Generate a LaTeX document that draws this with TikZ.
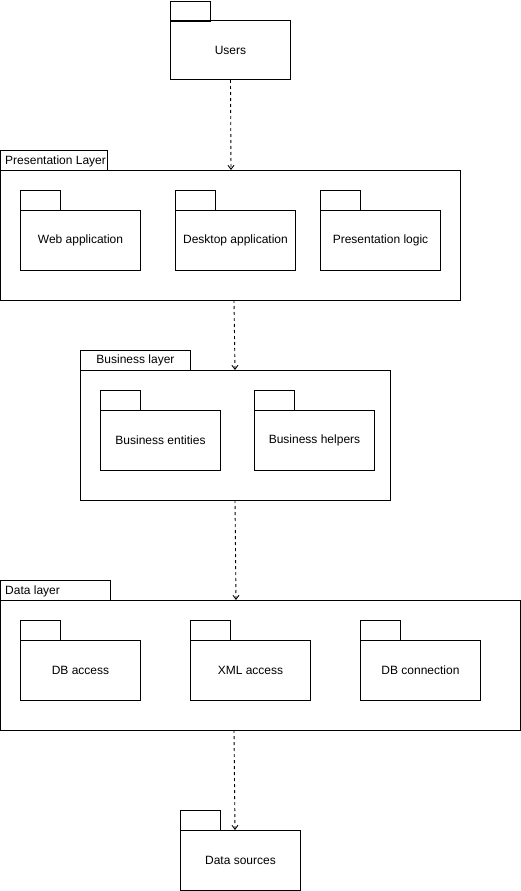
\documentclass[tikz,border=0pt]{standalone}
\usepackage{fontspec}
\setmainfont{Liberation Sans}
\usetikzlibrary{arrows.meta}
\begin{document}
\begin{tikzpicture}[x=1pt,y=-1pt,
  box/.style={draw, line width=1pt, inner sep=0pt, anchor=north west, font=\fontsize{12}{14}\selectfont},
  pkg/.style={box, minimum width=120pt, minimum height=60pt},
  ptab/.style={box, minimum width=40pt, minimum height=20pt},
  ltab/.style={box, minimum width=#1, minimum height=20pt},
  ltext/.style={anchor=west, inner sep=0pt, xshift=5pt, yshift=-1pt, font=\fontsize{12}{14}\selectfont},
  dep/.style={draw, line width=0.9pt, dash pattern=on 3pt off 3pt, -{Straight Barb[length=4pt,width=6pt]}}
]
\useasboundingbox (0,0) rectangle (521,891);
% Users
\node[ptab] (utab) at (170,1) {};
\node[pkg, minimum height=59pt] (users) at (170,20) {\raisebox{-1pt}{Users}};
% Presentation layer
\node[box, minimum width=460pt, minimum height=130pt] (pl) at (0,170) {};
\node[ltab=107pt, label distance=0pt, label={[ltext]west:Presentation Layer}] (pltab) at (0,150) {};
\node[ptab] (watab) at (20,190) {};
\node[pkg] (wa) at (20,210) {\raisebox{-1pt}{Web application}};
\node[ptab] (datab) at (175,190) {};
\node[pkg] (da) at (175,210) {\raisebox{-1pt}{Desktop application}};
\node[ptab] (pgtab) at (320,190) {};
\node[pkg] (pg) at (320,210) {\raisebox{-1pt}{Presentation logic}};
% Business layer
\node[box, minimum width=310pt, minimum height=130pt] (bl) at (80,370) {};
\node[ltab=110pt] (bltab) at (80,350) {\raisebox{-1pt}{Business layer}};
\node[ptab] (betab) at (100,390) {};
\node[pkg] (be) at (100,410) {\raisebox{-1pt}{Business entities}};
\node[ptab] (bhtab) at (254,390) {};
\node[pkg] (bh) at (254,410) {\raisebox{-1pt}{Business helpers}};
% Data layer
\node[box, minimum width=520pt, minimum height=130pt] (dl) at (0,600) {};
\node[ltab=110pt, label distance=0pt, label={[ltext]west:Data layer}] (dltab) at (0,580) {};
\node[ptab] (dbtab) at (20,620) {};
\node[pkg] (db) at (20,640) {\raisebox{-1pt}{DB access}};
\node[ptab] (xmtab) at (190,620) {};
\node[pkg] (xm) at (190,640) {\raisebox{-1pt}{XML access}};
\node[ptab] (dctab) at (360,620) {};
\node[pkg] (dc) at (360,640) {\raisebox{-1pt}{DB connection}};
% Data sources
\node[ptab] (dstab) at (180,810) {};
\node[pkg] (ds) at (180,830) {\raisebox{-1pt}{Data sources}};
% dependencies
\coordinate (a1) at (231,170);
\coordinate (a2s) at (234,300);
\coordinate (a2e) at (235,370);
\coordinate (a3s) at (235,500);
\coordinate (a3e) at (236,600);
\coordinate (a4s) at (234,730);
\coordinate (a4e) at (235,830);
\draw[dep] (users.south) -- (a1);
\draw[dep] (a2s) -- (a2e);
\draw[dep] (a3s) -- (a3e);
\draw[dep] (a4s) -- (a4e);
\end{tikzpicture}
\end{document}
